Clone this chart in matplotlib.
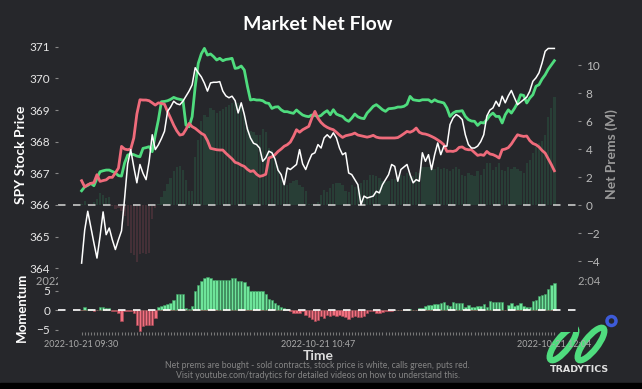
import numpy as np
import matplotlib.pyplot as plt
from matplotlib.patches import Ellipse, Circle, Rectangle

# Minute data, 2022-10-21 09:30 .. 12:04
tick_labels = ['2022-10-21 09:30', '2022-10-21 10:47', '2022-10-21 12:04']

spy_price = [
    364.16, 365.2, 365.8, 365.3, 364.8, 364.32, 365.0, 365.78, 365.06, 365.27,
    364.9, 364.59, 364.9, 365.18, 366.2, 367.3, 367.75, 367.2, 366.7, 367.28,
    367.0, 366.8, 367.38, 368.22, 367.75, 367.9, 368.1, 368.33, 368.96, 369.1,
    369.28, 369.2, 369.17, 369.28, 369.44, 369.6, 369.8, 370.34, 370.18, 370.05,
    369.85, 369.6, 369.86, 369.88, 369.88, 369.9, 369.6, 369.45, 369.39, 369.44,
    369.3, 368.91, 369.23, 368.86, 368.4, 368.12, 367.95, 367.91, 367.8, 367.38,
    367.49, 367.7, 367.65, 367.45, 367.1, 366.96, 366.64, 367.17, 367.12, 367.2,
    367.28, 367.75, 367.3, 367.12, 367.38, 367.6, 367.65, 367.91, 367.8, 368.12,
    368.22, 368.12, 368.28, 368.12, 367.8, 367.59, 367.65, 367.01, 366.96, 366.8,
    366.64, 366.01, 366.28, 366.22, 366.25, 366.28, 366.43, 366.38, 366.64, 366.8,
    366.96, 367.28, 367.22, 366.75, 367.12, 367.2, 367.28, 366.96, 366.7, 366.8,
    366.75, 367.65, 367.38, 367.59, 367.12, 367.59, 367.96, 367.59, 367.86, 367.86,
    368.54, 368.75, 368.86, 368.8, 368.7, 368.22, 367.91, 367.8, 367.8, 367.86,
    368.0, 368.22, 368.81, 369.0, 369.07, 369.28, 369.12, 369.44, 369.23, 369.45,
    369.62, 369.39, 369.17, 369.25, 369.33, 369.41, 369.6, 369.91, 370.02, 370.18,
    370.49, 370.86, 370.95, 370.95, 370.95,
]

calls = [
    1.02, 1.3, 1.4, 1.55, 1.38, 1.9, 2.38, 2.45, 2.5, 2.5,
    2.4, 2.3, 2.1, 2.07, 3.0, 3.57, 3.65, 3.6, 3.5, 3.45,
    4.05, 4.1, 4.17, 3.81, 5.0, 6.07, 7.38, 7.4, 7.45, 7.55,
    7.69, 7.6, 7.55, 7.5, 5.71, 5.59, 6.31, 8.45, 10.12, 10.8,
    11.19, 10.71, 10.79, 10.6, 10.36, 10.48, 10.31, 10.4, 10.43, 10.48,
    9.76, 9.8, 9.93, 9.64, 8.5, 7.5, 7.55, 7.5, 7.5, 7.45,
    7.3, 7.26, 6.9, 7.0, 7.02, 6.8, 6.67, 6.67, 6.6, 6.55,
    6.79, 6.6, 6.43, 6.35, 6.31, 6.43, 6.4, 6.31, 6.4, 6.6,
    6.74, 6.45, 6.81, 6.5, 6.4, 6.33, 6.1, 5.98, 6.21, 6.5,
    6.3, 6.21, 6.17, 6.57, 6.8, 7.05, 7.17, 7.0, 6.81, 6.69,
    6.88, 6.9, 6.93, 7.0, 7.0, 7.05, 7.2, 7.76, 7.52, 7.48,
    7.45, 7.52, 7.52, 7.52, 7.36, 7.52, 7.4, 7.35, 7.29, 6.93,
    6.33, 6.57, 6.69, 6.7, 6.74, 6.33, 6.1, 6.0, 5.98, 5.69,
    5.9, 5.86, 6.1, 6.4, 6.57, 6.33, 6.33, 5.86, 6.45, 6.8,
    6.57, 6.9, 7.29, 7.88, 7.83, 7.29, 7.64, 7.88, 8.48, 8.6,
    9.0, 9.3, 9.7, 10.0, 10.31,
]

puts = [
    1.74, 1.3, 1.45, 1.55, 1.6, 2.17, 1.69, 1.75, 1.8, 1.98,
    1.98, 2.3, 2.64, 4.19, 4.0, 3.95, 4.0, 4.79, 6.5, 7.52,
    7.5, 7.5, 7.45, 7.3, 7.14, 7.3, 7.26, 7.2, 6.67, 6.2,
    5.71, 5.3, 5.0, 5.05, 5.4, 5.83, 5.6, 5.48, 5.3, 5.12,
    5.0, 4.6, 4.05, 4.0, 3.95, 3.93, 3.93, 3.7, 3.5, 3.3,
    3.05, 2.98, 2.85, 2.76, 2.55, 2.4, 2.45, 2.2, 2.05, 2.1,
    2.2, 3.36, 3.45, 3.6, 3.83, 4.0, 4.2, 4.31, 4.5, 4.9,
    5.38, 5.2, 5.38, 5.5, 5.62, 6.21, 6.69, 6.2, 5.9, 5.69,
    5.55, 5.45, 5.38, 5.2, 5.0, 4.83, 4.95, 5.0, 5.05, 5.14,
    5.0, 4.95, 4.9, 4.85, 4.9, 4.98, 4.85, 4.8, 4.79, 4.79,
    4.79, 4.79, 4.79, 4.82, 4.95, 5.1, 5.26, 5.2, 5.3, 5.5,
    5.2, 5.1, 5.07, 5.0, 4.9, 4.79, 4.65, 4.5, 4.31, 3.83,
    3.85, 3.83, 3.9, 4.12, 4.15, 4.0, 3.95, 3.95, 3.75, 3.55,
    3.6, 3.55, 3.83, 3.65, 3.6, 3.5, 3.36, 3.95, 4.0, 4.1,
    4.36, 4.7, 5.02, 4.95, 4.9, 4.93, 4.6, 4.4, 4.31, 4.15,
    3.9, 3.71, 3.3, 2.9, 2.45,
]

net_prems = [
    0.1, 0.3, 0.1, 0.0, 0.2, 0.4, 0.86, 0.7, 0.5, 0.55,
    -0.1, -0.3, -0.2, -0.4, -0.8, -1.5, -3.4, -3.6, -4.1, -3.5,
    -3.4, -3.5, -3.4, -1.0, -0.2, 0.1, 0.6, 1.0, 1.5, 1.9,
    2.4, 2.74, 2.8, 2.5, 1.8, 1.0, 1.0, 3.45, 4.67, 6.0,
    6.45, 6.3, 6.93, 6.8, 6.6, 6.7, 6.85, 7.0, 7.17, 7.3,
    7.38, 7.3, 7.2, 6.6, 5.6, 5.3, 5.24, 5.0, 5.0, 5.4,
    5.24, 4.07, 3.93, 3.5, 2.76, 1.79, 1.6, 1.45, 1.55, 1.7,
    1.79, 1.4, 1.3, 0.98, 0.05, 0.05, -0.1, 0.24, 0.7, 1.07,
    0.9, 1.2, 1.5, 1.55, 1.55, 1.45, 1.0, 0.9, 1.4, 1.3,
    1.4, 1.55, 1.79, 1.79, 2.14, 2.14, 2.05, 1.95, 1.75, 1.65,
    1.75, 1.85, 1.85, 1.95, 2.14, 2.05, 2.3, 2.26, 2.1, 2.38,
    2.26, 2.7, 2.74, 2.74, 2.6, 2.55, 2.74, 2.55, 2.65, 2.55,
    2.45, 2.55, 2.74, 2.55, 2.14, 2.05, 2.26, 2.14, 2.05, 2.4,
    2.14, 2.6, 2.98, 2.98, 2.5, 2.74, 2.98, 2.5, 2.4, 2.74,
    2.6, 2.74, 2.55, 2.45, 2.3, 3.0, 3.21, 3.69, 4.17, 4.4,
    4.6, 5.0, 6.31, 6.9, 7.74,
]

momentum = [
    0.0, 0.7, 0.26, 0.26, -0.2, 0.0, 0.7, 0.85, 0.5, 0.43,
    -0.17, -0.17, -0.77, -2.7, -0.34, -0.34, -0.34, -0.8, -3.8, -5.3,
    -4.2, -3.8, -3.8, -3.8, -2.05, 0.7, 0.94, 1.2, 1.54, 1.8,
    2.65, 4.1, 4.2, 4.2, 0.4, 0.2, 0.94, 4.96, 6.3, 7.5,
    8.2, 8.4, 8.1, 7.6, 7.6, 7.6, 7.6, 7.8, 7.8, 8.1,
    8.2, 7.35, 7.35, 7.2, 6.07, 5.0, 4.79, 5.0, 4.79, 4.79,
    4.1, 2.9, 2.5, 1.8, 1.2, 0.77, 0.5, 0.34, -0.17, -0.77,
    -0.77, -0.77, -0.17, -1.2, -1.9, -2.2, -2.7, -2.5, -1.62, -2.0,
    -1.2, -1.6, -1.2, -1.5, -1.2, -1.6, -1.9, -2.2, -1.8, -1.6,
    -1.8, -1.9, -1.6, -0.77, -0.34, -0.34, -0.77, -0.77, -0.5, -0.34,
    -0.2, -0.17, -0.1, 0.0, 0.0, 0.0, 0.34, 0.2, 0.0, 0.1,
    0.5, 0.5, 0.94, 1.2, 1.37, 1.54, 1.54, 1.71, 1.97, 1.37,
    0.94, 1.97, 1.71, 1.71, 1.71, 0.85, 1.2, 0.68, 0.68, 1.11,
    1.03, 1.54, 0.68, 2.22, 1.97, 2.05, 2.05, 2.05, 0.1, 1.2,
    1.8, 0.94, 1.2, 1.71, 0.94, 0.68, 0.68, 2.22, 2.48, 3.5,
    3.93, 4.1, 5.47, 6.3, 7.0,
]

bg = '#26272b'
green = '#4fdc7e'
red = '#ef6b7b'

plt.rcParams['font.family'] = ['Lato', 'DejaVu Sans']

x = np.arange(len(spy_price))
tick_pos = [0, 77, 154]
net = np.array(net_prems)
mom = np.array(momentum)

fig = plt.figure(figsize=(6.42, 3.89), dpi=100, facecolor=bg)

# main panel: price on the left, net prems on the right
ax = fig.add_axes([0.0903, 0.3033, 0.81, 0.599])
ax2 = ax.twinx()
ax2.set_facecolor(bg)
ax.set_zorder(ax2.get_zorder() + 1)
ax.patch.set_visible(False)

ax2.bar(x, np.where(net > 0, net, 0), width=0.75, color='#3ddc84', alpha=0.13)
ax2.bar(x, np.where(net < 0, net, 0), width=0.75, color='#f06a7c', alpha=0.15)
ax2.plot(x, calls, color=green, lw=2)
ax2.plot(x, puts, color=red, lw=2)
ax2.axhline(0, color='#c8c8c8', lw=1.2, ls=(0, (4.5, 4.5)))
ax.plot(x, spy_price, color='white', lw=1.1)

ax.set_xlim(-7.7, 161.7)
ax.set_ylim(363.91, 371.28)
ax2.set_ylim(-4.71, 11.93)
ax.set_yticks(range(364, 372))
ax2.set_yticks(range(-4, 11, 2))
ax.set_xticks(tick_pos)
ax.set_xticklabels(tick_labels)
ax.tick_params(axis='x', colors='#aaaaaa', labelsize=8, length=0)
ax.tick_params(axis='y', colors='#888888', labelcolor='#e6e6e6', labelsize=8.5, length=2)
ax2.tick_params(axis='y', colors='#888888', labelcolor='#bbbbbb', labelsize=8.5, length=2)
ax.set_ylabel('SPY Stock Price', color='white', fontsize=10, fontweight='bold', labelpad=2)
ax2.set_ylabel('Net Prems (M)', color='#9a9a9a', fontsize=10, fontweight='bold', labelpad=4)
for a in (ax, ax2):
    for s in a.spines.values():
        s.set_visible(False)
ax.set_title('Market Net Flow', color='white', fontsize=14, fontweight='bold', pad=6)

# momentum panel
axm = fig.add_axes([0.0903, 0.1465, 0.81, 0.1517], facecolor=bg)
axm.set_zorder(ax.get_zorder() + 1)
axm.bar(x, np.where(mom > 0, mom, 0), width=0.8, color='#6ee49a', edgecolor='#3f9e62', lw=0.4)
axm.bar(x, np.where(mom < 0, mom, 0), width=0.8, color='#f2707f', edgecolor='#b04a58', lw=0.4)
axm.axhline(0, color='white', lw=1.2, ls=(0, (4.5, 4.5)))
axm.set_xlim(-7.7, 161.7)
axm.set_ylim(-5.64, 9.49)
axm.set_yticks([-5, 0, 5])
axm.set_xticks(tick_pos)
axm.set_xticklabels(tick_labels)
axm.set_xticks(x, minor=True)
axm.tick_params(axis='x', which='both', colors='#777777', labelcolor='#aaaaaa', labelsize=6.5, length=2, width=0.8)
axm.tick_params(axis='y', colors='#888888', labelcolor='#e6e6e6', labelsize=8.5, length=2)
axm.set_ylabel('Momentum', color='white', fontsize=9.5, fontweight='bold', labelpad=2)
axm.yaxis.set_label_coords(-0.058, 0.42)
axm.set_xlabel('Time', color='#dddddd', fontsize=10, fontweight='bold', labelpad=1)
for s in axm.spines.values():
    s.set_visible(False)

fig.text(0.495, 0.048, 'Net prems are bought - sold contracts, stock price is white, calls green, puts red.\n'
         'Visit youtube.com/tradytics for detailed videos on how to understand this.',
         ha='center', va='center', color='#858585', fontsize=6.2, linespacing=1.2)

# logo, drawn in pixel units
lg = fig.add_axes([540 / 642, 1 - 364 / 389, 80 / 642, 52 / 389])
lg.set_xlim(540, 620)
lg.set_ylim(364, 312)
lg.set_aspect('equal')
lg.axis('off')
lg.add_patch(Ellipse((563, 344), 13, 40, angle=38, fill=False, ec='#4fdc7e', lw=4.5))
lg.add_patch(Ellipse((591, 344), 13, 40, angle=38, fill=False, ec='#4fdc7e', lw=4.5))
lg.add_patch(Circle((611.5, 321), 4.5, fill=False, ec='#3d5bd9', lw=2.5))
fig.text(579 / 642, 1 - 370 / 389, 'TRADYTICS', ha='center', va='center', color='#e0e0e0',
         fontsize=6.8, fontweight='bold', family='DejaVu Sans')
fig.patches.append(Rectangle((0, 0), 1, 6 / 389, transform=fig.transFigure, color='black'))

fig.savefig('out.png', dpi=100, facecolor=bg)
